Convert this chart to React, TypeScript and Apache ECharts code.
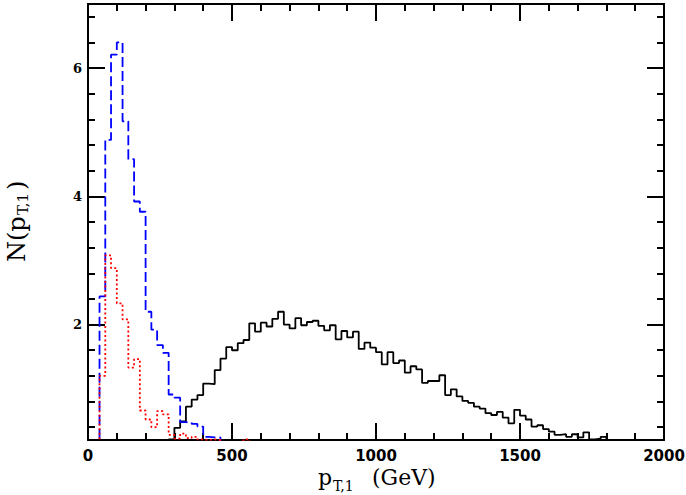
import { useEffect, useRef } from "react";
import * as echarts from "echarts";

// Histogram bin width (GeV)
const BIN_WIDTH = 20;

// Blue dashed histogram: first bin starts at 40 GeV
const blueStart = 40;
const blueValues = [
  2.44, 4.88, 6.21, 6.4, 5.17, 4.58, 3.92, 3.76, 2.2, 1.92, 1.68, 1.56, 0.91,
  0.86, 0.48, 0.47, 0.45, 0.41, 0.25, 0.24, 0.24,
];

// Red dotted histogram: first bin starts at 40 GeV
const redStart = 40;
const redValues = [
  1.2, 3.08, 2.88, 2.33, 2.08, 1.33, 1.46, 0.66, 0.52, 0.4, 0.65, 0.6, 0.28,
  0.22, 0.3, 0.23, 0.25, 0.21, 0.2, 0.21, 0.2, 0.1, 0.1, 0.1, 0.1, 0.21,
];

// Black solid histogram: first bin starts at 280 GeV
const blackStart = 280;
const blackValues = [
  0.21, 0.39, 0.49, 0.72, 0.83, 0.9, 1.08, 1.07, 1.29, 1.47, 1.65, 1.6, 1.71,
  1.76, 2.02, 1.89, 2.03, 1.97, 2.09, 2.2, 2.0, 1.94, 2.1, 1.99, 2.04, 2.06,
  1.98, 1.91, 1.99, 1.77, 1.9, 1.8, 1.89, 1.62, 1.72, 1.64, 1.57, 1.38, 1.57,
  1.4, 1.44, 1.25, 1.35, 1.3, 1.09, 1.12, 1.12, 1.21, 0.9, 0.99, 0.88, 0.81,
  0.78, 0.72, 0.69, 0.62, 0.59, 0.64, 0.55, 0.46, 0.67, 0.58, 0.52, 0.41, 0.43,
  0.37, 0.33, 0.28, 0.29, 0.25, 0.29, 0.24, 0.32, 0.21, 0.22, 0.25,
];

// Axis ranges and tick values
const xMin = 0;
const xMax = 2000;
const xMajorInterval = 500;
const yMin = 0.2;
const yMax = 7;
const yMajorTicks = [2, 4, 6];
const yMinorTicks = [
  0.4, 0.8, 1.2, 1.6, 2.4, 2.8, 3.2, 3.6, 4.4, 4.8, 5.2, 5.6, 6.4, 6.8,
];

function toSteps(start: number, vals: number[]): number[][] {
  const pts: number[][] = [[start, 0]];
  vals.forEach((v, i) => pts.push([start + i * BIN_WIDTH, v]));
  pts.push([start + vals.length * BIN_WIDTH, 0]);
  return pts;
}

export default function App() {
  const ref = useRef<HTMLDivElement>(null);

  useEffect(() => {
    if (!ref.current) return;
    const chart = echarts.init(ref.current, undefined, { renderer: "svg" });

    const black = "#000";
    const axisLine = { show: true, onZero: false, lineStyle: { color: black, width: 2 } };

    const xBase: any = {
      type: "value",
      min: xMin,
      max: xMax,
      interval: xMajorInterval,
      splitLine: { show: false },
      axisLine,
      axisTick: { show: true, inside: true, length: 17, lineStyle: { color: black, width: 2 } },
      minorTick: { show: true, splitNumber: 5, length: 7, lineStyle: { color: black, width: 2 } },
    };

    const yBase: any = {
      type: "value",
      min: yMin,
      max: yMax,
      splitLine: { show: false },
      axisLine,
    };
    const majorTick = {
      show: true,
      inside: true,
      length: 17,
      customValues: yMajorTicks,
      lineStyle: { color: black, width: 2 },
    };
    const minorTick = {
      show: true,
      inside: true,
      length: 7,
      customValues: yMinorTicks,
      lineStyle: { color: black, width: 2 },
    };

    const serif = "DejaVu Serif";
    const titleFont = `22px "${serif}"`;
    const subFont = `14px "${serif}"`;
    const yTitleFont = `24px "${serif}"`;
    const ySubFont = `15px "${serif}"`;

    const option: any = {
      animation: false,
      backgroundColor: "#fff",
      grid: { left: 88, right: 22, top: 4, bottom: 55, outerBoundsMode: "none" },
      xAxis: [
        {
          ...xBase,
          position: "bottom",
          axisLabel: {
            margin: 8,
            color: black,
            fontFamily: "DejaVu Sans",
            fontWeight: "bold",
            fontSize: 15,
            formatter: (v: number) => String(v),
          },
        },
        { ...xBase, position: "top", axisLabel: { show: false } },
      ],
      yAxis: [
        {
          ...yBase,
          position: "left",
          axisTick: majorTick,
          axisLabel: {
            customValues: yMajorTicks,
            margin: 6,
            color: black,
            fontFamily: serif,
            fontWeight: "bold",
            fontSize: 13,
          },
        },
        { ...yBase, position: "left", axisTick: minorTick, axisLabel: { show: false } },
        { ...yBase, position: "right", axisTick: majorTick, axisLabel: { show: false } },
        { ...yBase, position: "right", axisTick: minorTick, axisLabel: { show: false } },
      ],
      series: [
        {
          type: "line",
          step: "end",
          showSymbol: false,
          clip: true,
          data: toSteps(blackStart, blackValues),
          lineStyle: { color: "#000", width: 1.8 },
          z: 2,
        },
        {
          type: "line",
          step: "end",
          showSymbol: false,
          clip: true,
          data: toSteps(blueStart, blueValues),
          lineStyle: { color: "#0000ff", width: 1.8, type: [10, 4] },
          z: 3,
        },
        {
          type: "line",
          step: "end",
          showSymbol: false,
          clip: true,
          data: toSteps(redStart, redValues),
          lineStyle: { color: "#ff0000", width: 1.8, type: [2, 2.5] },
          z: 4,
        },
      ],
      graphic: [
        {
          type: "group",
          children: [
            { type: "text", x: 318, y: 477, style: { text: "p", font: titleFont, fill: black, textAlign: "left", textVerticalAlign: "middle" } },
            { type: "text", x: 333, y: 486, style: { text: "T,1", font: subFont, fill: black, textAlign: "left", textVerticalAlign: "middle" } },
            { type: "text", x: 372, y: 477, style: { text: "(GeV)", font: titleFont, fill: black, textAlign: "left", textVerticalAlign: "middle" } },
          ],
        },
        {
          type: "group",
          x: 26,
          y: 262,
          rotation: Math.PI / 2,
          children: [
            { type: "text", x: 0, y: -9, style: { text: "N(p", font: yTitleFont, fill: black, textAlign: "left", textVerticalAlign: "middle" } },
            { type: "text", x: 47, y: -3, style: { text: "T,1", font: ySubFont, fill: black, textAlign: "left", textVerticalAlign: "middle" } },
            { type: "text", x: 72, y: -9, style: { text: ")", font: yTitleFont, fill: black, textAlign: "left", textVerticalAlign: "middle" } },
          ],
        },
      ],
    };

    chart.setOption(option);
    return () => chart.dispose();
  }, []);

  return (
    <div
      ref={ref}
      style={{ position: "absolute", left: 0, top: 0, width: 686, height: 495 }}
    />
  );
}
